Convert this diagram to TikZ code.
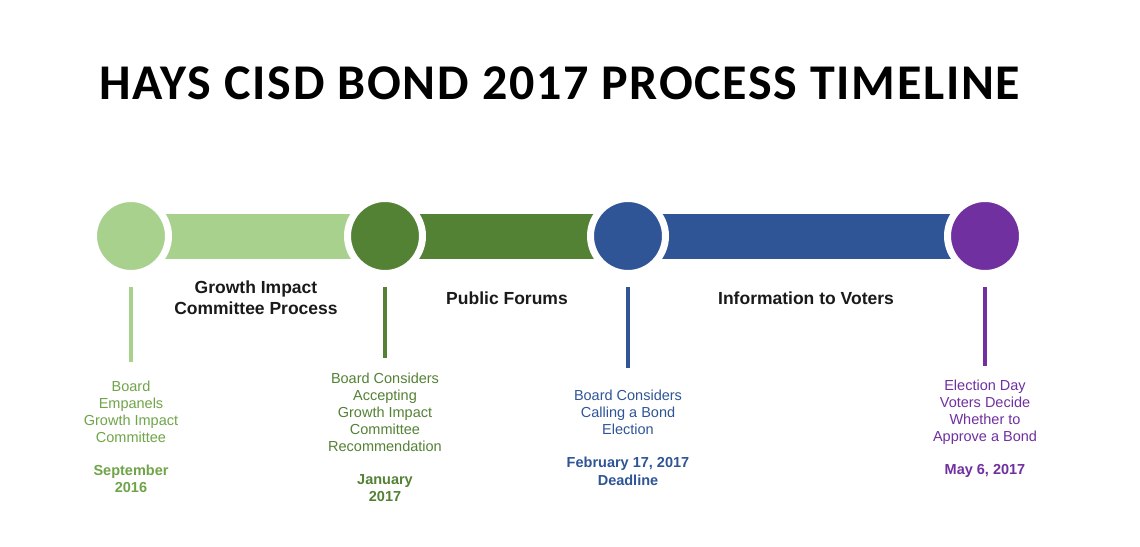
\documentclass[tikz,border=0pt]{standalone}
\usepackage{fontspec}
\setmainfont{Liberation Sans}
\newfontfamily\titlefont[LetterSpace=3.4]{Carlito}
\definecolor{greenA}{HTML}{A9D18E}
\definecolor{greenB}{HTML}{548235}
\definecolor{blueC}{HTML}{2F5597}
\definecolor{purpleD}{HTML}{7030A0}
\definecolor{textA}{HTML}{6FA548}
\definecolor{labelgray}{HTML}{1A1A1A}
\begin{document}
\begin{tikzpicture}[x=1pt,y=-1pt,
    bar/.style={line width=45pt},
    dot/.style={circle,minimum size=75pt,inner sep=0pt,outer sep=0pt,draw=white,line width=7pt},
    tick/.style={line width=3.5pt,shorten <=51pt},
    desc/.style={align=center,font=\fontsize{14.5}{17}\selectfont},
    date/.style={align=center,font=\fontsize{14.5}{17.5}\selectfont\bfseries},
    phase/.style={align=center,font=\fontsize{17.5}{21}\selectfont\bfseries,text=labelgray}]

  % bounding box
  \fill[white] (0,0) rectangle (1140,546);
  \useasboundingbox (0,0) rectangle (1140,546);

  % title
  \node[anchor=base,text=black] (title) at (560,99)
    {\titlefont\fontsize{50}{56}\selectfont\bfseries HAYS CISD BOND 2017 PROCESS TIMELINE};

  % milestone points
  \foreach \i/\x in {1/131,2/385,3/628,4/985}{
      \coordinate (p\i) at (\x,236);
    }

  % bars between the points
  \draw[bar,greenA] (p1) -- (p2);
  \draw[bar,greenB] (p2) -- (p3);
  \draw[bar,blueC] (p3) -- (p4);

  % dots, ticks and texts
  \foreach \i/\x/\col/\txt/\ye/\dy/\desctext/\datetext in {
      1/131/greenA/textA/362/479/{Board\\Empanels\\Growth Impact\\Committee}/{September\\2016},
      2/385/greenB/greenB/358/488/{Board Considers\\Accepting\\Growth Impact\\Committee\\Recommendation}/{January\\2017},
      3/628/blueC/blueC/368/471.5/{Board Considers\\Calling a Bond\\Election}/{February 17, 2017\\Deadline},
      4/985/purpleD/purpleD/366/471/{Election Day\\Voters Decide\\Whether to\\Approve a Bond}/{May 6, 2017}}{
      \node[dot,fill=\col] (c\i) at (p\i) {};
      \coordinate (e\i) at (\x,\ye);
      \draw[tick,\col] (c\i.center) -- (e\i);
      \node[desc,text=\txt] (d\i) at (\x,412) {\desctext};
      \node[date,text=\txt] (t\i) at (\x,\dy) {\datetext};
    }

  % phases
  \node[phase] (ph1) at (256,297.5) {Growth Impact\\Committee Process};
  \node[phase] (ph2) at (507,298) {Public Forums};
  \node[phase] (ph3) at (806,298) {Information to Voters};
\end{tikzpicture}
\end{document}
